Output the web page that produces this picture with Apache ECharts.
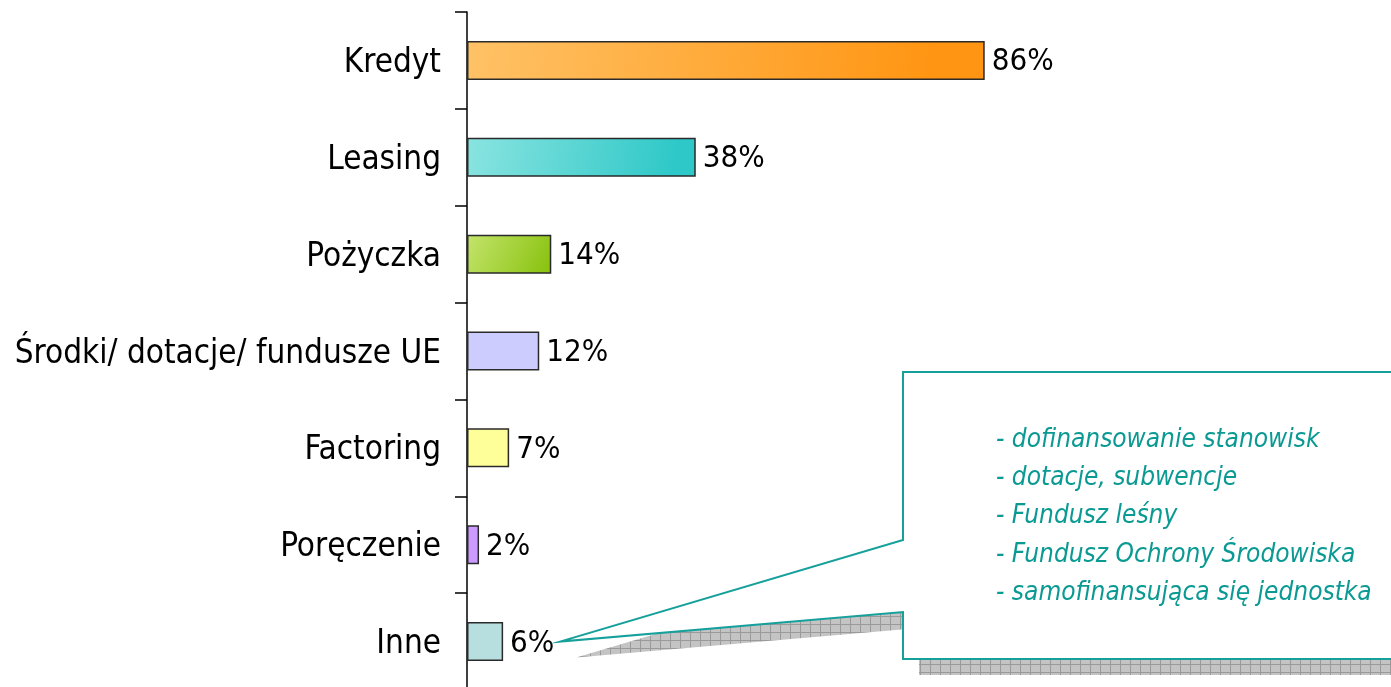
<!DOCTYPE html>
<html>
<head>
<meta charset="utf-8">
<script src="https://cdn.jsdelivr.net/npm/echarts@6/dist/echarts.min.js"></script>
<style>
html, body { margin: 0; padding: 0; background: #fff; overflow: hidden; }
#chart { width: 1391px; height: 690px; }
</style>
</head>
<body>
<div id="chart"></div>
<script>
// dane
var categories = ['Kredyt', 'Leasing', 'Pożyczka', 'Środki/ dotacje/ fundusze UE', 'Factoring', 'Poręczenie', 'Inne'];
var values = [86, 38, 14, 12, 7, 2, 6];
var noteLines = [
  '- dofinansowanie stanowisk',
  '- dotacje, subwencje',
  '- Fundusz leśny',
  '- Fundusz Ochrony Środowiska',
  '- samofinansująca się jednostka'
];

var FONT = '"DejaVu Sans Condensed", "DejaVu Sans", sans-serif';

function grad(c1, c2) {
  return new echarts.graphic.LinearGradient(0, 0, 0.9, 1, [
    { offset: 0, color: c1 }, { offset: 1, color: c2 }
  ]);
}
var barColors = [
  grad('#ffc266', '#ff9512'),
  grad('#8ae4e0', '#2ec8c8'),
  grad('#c4e46c', '#8cc414'),
  '#ccccff',
  '#ffff99',
  '#cc99ff',
  '#b8dfe0'
];

// wzor kratki dla cienia
var pat = document.createElement('canvas');
pat.width = 10; pat.height = 8;
var pc = pat.getContext('2d');
pc.fillStyle = '#c4c4c4';
pc.fillRect(0, 0, 10, 8);
pc.fillStyle = '#9a9a9a';
pc.fillRect(0, 0, 10, 1);
pc.fillRect(0, 0, 1, 8);

var myChart = echarts.init(document.getElementById('chart'));
var option = {
  animation: false,
  grid: { left: 467, top: 12, bottom: 0, width: 602 },
  xAxis: { type: 'value', min: 0, max: 100, show: false },
  yAxis: {
    type: 'category',
    inverse: true,
    data: categories,
    axisLine: { show: true, lineStyle: { color: '#000', width: 1.5 } },
    axisTick: { show: true, length: 12, lineStyle: { color: '#000', width: 1.5 } },
    axisLabel: {
      margin: 26,
      formatter: function (v) { return '{a|' + v + '}'; },
      rich: { a: { color: '#000', fontSize: 33, fontFamily: FONT, padding: [6, 0, 0, 0] } }
    }
  },
  series: [{
    type: 'bar',
    data: values.map(function (v, i) {
      return { value: v, itemStyle: { color: barColors[i] } };
    }),
    barWidth: 39,
    itemStyle: { borderColor: '#2a2a2a', borderWidth: 1.5 },
    label: {
      show: true, position: 'right', distance: 7, offset: [0, 2],
      formatter: '{c}%', color: '#000', fontSize: 31, fontFamily: FONT
    }
  }]
};
myChart.setOption(option);

// dymek z opisem "Inne"
var end = myChart.convertToPixel({ seriesIndex: 0 }, [values[6], categories[6]]);
var tip = [end[0] + 57, end[1]];
var bx = 903, by = 372, bw = 500, bh = 287;
function callout(dx, dy) {
  return [
    [bx + dx, by + dy], [bx + bw + dx, by + dy], [bx + bw + dx, by + bh + dy],
    [bx + dx, by + bh + dy], [bx + dx, 612 + dy], [tip[0] + dx, tip[1] + dy],
    [bx + dx, 540 + dy]
  ];
}
var graphics = [
  {
    type: 'polygon', z: 10,
    shape: { points: callout(16, 16) },
    style: { fill: { type: 'pattern', image: pat, repeat: 'repeat' }, stroke: null }
  },
  {
    type: 'polygon', z: 11,
    shape: { points: callout(0, 0) },
    style: { fill: '#fff', stroke: '#16a09b', lineWidth: 2 }
  }
];
noteLines.forEach(function (t, i) {
  graphics.push({
    type: 'text', z: 12, x: 996, y: 440 + i * 38.3,
    style: { text: t, fill: '#0b9a93', fontSize: 26, fontStyle: 'italic', fontFamily: FONT, verticalAlign: 'middle' }
  });
});
myChart.setOption({ graphic: graphics });
</script>
</body>
</html>
